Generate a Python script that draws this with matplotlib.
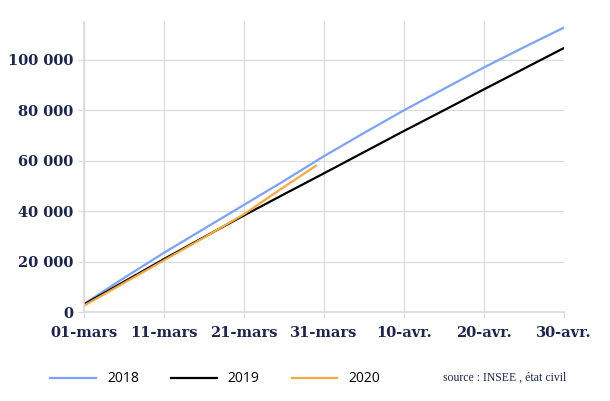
import matplotlib
matplotlib.use('Agg')
import matplotlib.pyplot as plt
from matplotlib.lines import Line2D
from matplotlib.ticker import FuncFormatter

# data (cumulated deaths, days since 1 March)
days = [0, 5, 10, 15, 20, 25, 30, 35, 40, 45, 50, 55, 60]
deaths_2018 = [3200, 13500, 23500, 33000, 42500, 52000, 61800, 71000, 80000,
               88500, 97000, 105000, 112800]
deaths_2019 = [3000, 12000, 21000, 29700, 38300, 46700, 55000, 63400, 71800,
               80000, 88300, 96500, 104700]
days_2020 = [0, 5, 10, 15, 20, 25, 29]
deaths_2020 = [2500, 11500, 20500, 29500, 38800, 49600, 58000]

xtick_pos = [0, 10, 20, 30, 40, 50, 60]
xtick_labels = ['01-mars', '11-mars', '21-mars', '31-mars', '10-avr.', '20-avr.', '30-avr.']
ytick_pos = [0, 20000, 40000, 60000, 80000, 100000]

colors = ['#7ba3f7', '#000000', '#f7a940']
navy = '#1b2550'
grid_col = '#d9d9d9'

fig = plt.figure(figsize=(6.1, 4.01), dpi=100)
ax = fig.add_axes([84 / 610, 1 - 312 / 401, 480 / 610, 290 / 401])

ax.plot(days, deaths_2018, color=colors[0], linewidth=1.6)
ax.plot(days, deaths_2019, color=colors[1], linewidth=1.6)
ax.plot(days_2020, deaths_2020, color=colors[2], linewidth=1.6)

ax.set_xlim(0, 60)
ax.set_ylim(0, 115000)
ax.set_xticks(xtick_pos)
ax.set_xticklabels(xtick_labels)
ax.set_yticks(ytick_pos)
ax.yaxis.set_major_formatter(FuncFormatter(lambda v, p: '{:,}'.format(int(v)).replace(',', ' ')))

ax.grid(color=grid_col, linewidth=0.8)
ax.set_axisbelow(True)
for s in ['top', 'right']:
    ax.spines[s].set_visible(False)
for s in ['left', 'bottom']:
    ax.spines[s].set_color(grid_col)
    ax.spines[s].set_linewidth(1.2)
ax.tick_params(colors=grid_col, length=4, width=0.8, labelcolor=navy)
ax.tick_params(axis='x', pad=6)
ax.tick_params(axis='y', pad=4)
for lab in ax.get_xticklabels() + ax.get_yticklabels():
    lab.set_family('DejaVu Serif')
    lab.set_fontweight('bold')
    lab.set_fontsize(10.5)

# legend along the bottom
handles = [Line2D([], [], color=c, linewidth=1.6) for c in colors]
fig.legend(handles, ['2018', '2019', '2020'], loc='center left',
           bbox_to_anchor=(50 / 610, 1 - 379 / 401), ncol=3, frameon=False,
           borderpad=0, borderaxespad=0, handlelength=3.3, handletextpad=0.8,
           columnspacing=2.3, prop={'family': 'Open Sans', 'size': 10})

fig.text(443 / 610, 1 - 378 / 401, 'source : INSEE , état civil',
         family='Liberation Serif', fontsize=8.5, color=navy, va='center')

fig.savefig('out.png', dpi=100)
